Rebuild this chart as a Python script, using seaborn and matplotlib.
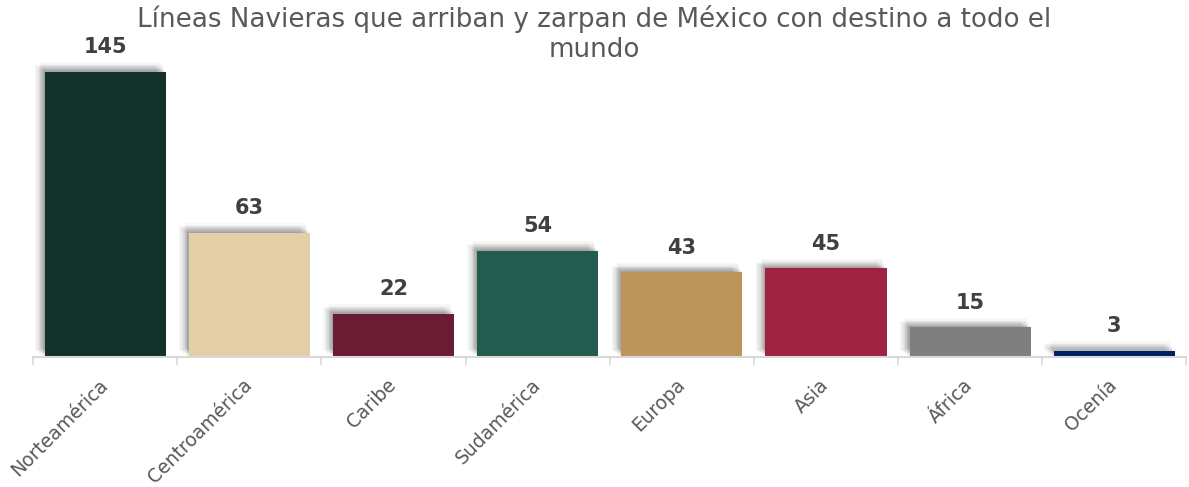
import matplotlib
matplotlib.use("Agg")
import matplotlib.pyplot as plt
import matplotlib.patheffects as pe
import seaborn as sns
import pandas as pd
import numpy as np

categories = ["Norteamérica", "Centroamérica", "Caribe", "Sudamérica", "Europa", "Asia", "África", "Ocenía"]
values = [145, 63, 22, 54, 43, 45, 15, 3]
colors = ["#13312B", "#E3CFA7", "#6A1C32", "#235B4E", "#BC955C", "#9F2241", "#7F7F7F", "#002060"]
title = "Líneas Navieras que arriban y zarpan de México con destino a todo el\nmundo"

df = pd.DataFrame({"cat": categories, "val": values})

sns.set_theme(style="white")
plt.rcParams['font.family'] = ['DejaVu Sans']

fig = plt.figure(figsize=(11.89, 4.87), dpi=100)
ax = fig.add_axes([0.0278, 0.267, 0.970, 0.606])

sns.barplot(data=df, x="cat", y="val", hue="cat", palette=colors, legend=False,
            width=0.84, ax=ax, saturation=1, linewidth=0, edgecolor="none")

effects = []
for k in range(1, 8):
    effects.append(pe.SimplePatchShadow(offset=(-k, k * 0.7), shadow_rgbFace="#000000", alpha=0.035))
for k in range(1, 8):
    effects.append(pe.SimplePatchShadow(offset=(-k * 0.5, k), shadow_rgbFace="#000000", alpha=0.025))
effects.append(pe.Normal())
for p in ax.patches:
    p.set_path_effects(effects)

for i, v in enumerate(values):
    ax.text(i, v + 7.5, str(v), ha="center", va="bottom", fontsize=15, fontweight="bold",
            color="#404040", clip_on=False)

ax.set_ylim(0, 150)
ax.set_xlim(-0.5, len(categories) - 0.5)
ax.set_xlabel("")
ax.set_ylabel("")
ax.set_yticks([])
for s in ["top", "right", "left"]:
    ax.spines[s].set_visible(False)
ax.spines["bottom"].set_color("#d9d9d9")
ax.spines["bottom"].set_linewidth(1.5)

ax.set_xticks(range(len(categories)))
ax.set_xticklabels(categories, rotation=45, ha="right", rotation_mode="anchor",
                   fontsize=13.5, color="#595959")
for lbl in ax.get_xticklabels():
    lbl.set_va("center")
ax.tick_params(axis="x", which="major", length=0, pad=18)
ax.set_xticks(np.arange(-0.5, len(categories), 1.0), minor=True)
ax.tick_params(axis="x", which="minor", length=6, color="#d9d9d9", width=1.2, bottom=True)

fig.suptitle(title, fontsize=18.8, color="#595959", y=0.99, x=0.5, va="top", linespacing=1.2)

fig.savefig("out.png", dpi=100)
